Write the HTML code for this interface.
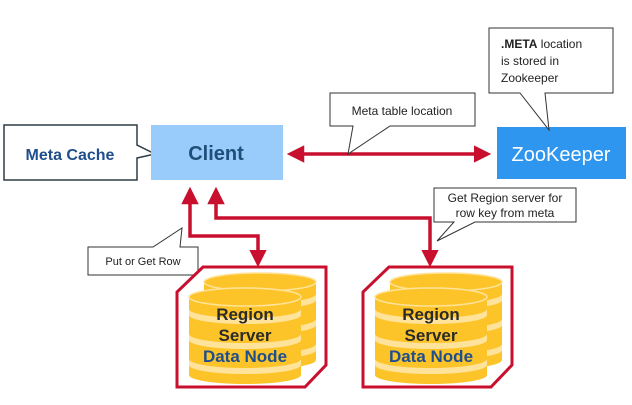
<!DOCTYPE html>
<html><head><meta charset="utf-8"><style>html,body{margin:0;padding:0;background:#fff}</style></head><body>
<svg width="632" height="400" viewBox="0 0 632 400" xmlns="http://www.w3.org/2000/svg" font-family="Liberation Sans, Arial, sans-serif">
<defs>
<marker id="ah" markerWidth="5" markerHeight="5" refX="3.5" refY="2.5" orient="auto-start-reverse" markerUnits="strokeWidth">
<path d="M0,0 L5,2.5 L0,5 z" fill="#C8102E"/></marker>
<g id="cyl">
<path d="M0,0 v78 a56,9 0 0 0 112,0 v-78 z" fill="#FDC42A"/>
<path d="M0,12 a56,9 0 0 0 112,0 v6 a56,9 0 0 1 -112,0 z" fill="#FFE39A"/>
<path d="M0,37 a56,9 0 0 0 112,0 v6 a56,9 0 0 1 -112,0 z" fill="#FFE39A"/>
<path d="M0,62 a56,9 0 0 0 112,0 v6 a56,9 0 0 1 -112,0 z" fill="#FFE39A"/>
<ellipse cx="56" cy="0" rx="56" ry="9" fill="#FDC42A" stroke="#FFE39A" stroke-width="1.5"/>
</g>
<g id="rs">
<path d="M26,0 H149 V98 L128,120 H0 V25 Z" fill="#fff" stroke="#C8102E" stroke-width="3"/>
<use href="#cyl" x="27" y="15"/>
<use href="#cyl" x="12" y="30"/>
<text x="68" y="53" font-size="17" font-weight="bold" fill="#2a2a2a" text-anchor="middle">Region</text>
<text x="68" y="74" font-size="17" font-weight="bold" fill="#2a2a2a" text-anchor="middle">Server</text>
<text x="68" y="95" font-size="17" font-weight="bold" fill="#1F4E8C" text-anchor="middle">Data Node</text>
</g>
</defs>

<path d="M4,125 H137 V145 L155,154 L137,158 V180 H4 Z" fill="#fff" stroke="#2d3b45" stroke-width="1.5"/>
<text x="70" y="160" font-size="16" font-weight="bold" fill="#1F4E8C" text-anchor="middle">Meta Cache</text>

<rect x="151" y="125" width="132" height="55" fill="#99CCFB"/>
<text x="216" y="160" font-size="20" font-weight="bold" fill="#1F4E79" text-anchor="middle">Client</text>

<rect x="497" y="127" width="129" height="52" fill="#2E96EE"/>
<text x="561" y="161" font-size="20" fill="#fff" text-anchor="middle">ZooKeeper</text>

<line x1="292" y1="154" x2="486" y2="154" stroke="#C8102E" stroke-width="3.5" marker-start="url(#ah)" marker-end="url(#ah)"/>

<path d="M330,93 H475 V126 H390 L348,154 L353,126 H330 Z" fill="#fff" stroke="#333" stroke-width="1"/>
<text x="402" y="115" font-size="12" fill="#222" text-anchor="middle">Meta table location</text>

<path d="M489,28 H613 V93 H545 L549,130 L520,93 H489 Z" fill="#fff" stroke="#333" stroke-width="1"/>
<text x="501" y="48" font-size="12" fill="#222"><tspan font-weight="bold">.META</tspan> location</text>
<text x="501" y="65" font-size="12" fill="#222">is stored in</text>
<text x="501" y="82" font-size="12" fill="#222">Zookeeper</text>

<polyline points="190,192 190,236 258,236 258,262" fill="none" stroke="#C8102E" stroke-width="3.5" marker-start="url(#ah)" marker-end="url(#ah)"/>
<polyline points="216,192 216,218 430,218 430,262" fill="none" stroke="#C8102E" stroke-width="3.5" marker-start="url(#ah)" marker-end="url(#ah)"/>

<path d="M434,188 H576 V222 H475 L437,241 L454,222 H434 Z" fill="#fff" stroke="#333" stroke-width="1"/>
<text x="505" y="202" font-size="12" fill="#222" text-anchor="middle">Get Region server for</text>
<text x="505" y="217" font-size="12" fill="#222" text-anchor="middle">row key from meta</text>

<path d="M88,247 H153 L182,228 L180,247 H198 V275 H88 Z" fill="#fff" stroke="#333" stroke-width="1"/>
<text x="143" y="265" font-size="11" fill="#222" text-anchor="middle">Put or Get  Row</text>

<use href="#rs" x="177" y="267"/>
<use href="#rs" x="363" y="267"/>
</svg>
</body></html>
